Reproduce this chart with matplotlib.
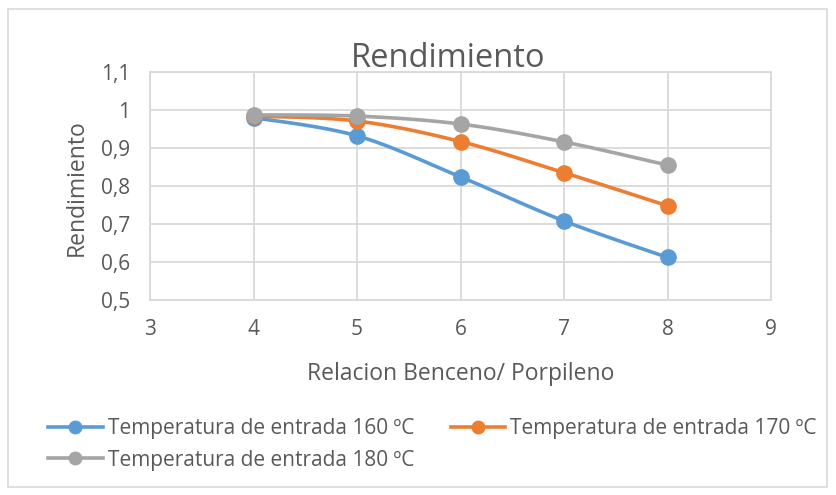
import numpy as np
import matplotlib.pyplot as plt
from matplotlib.patches import Rectangle

relacion = [4, 5, 6, 7, 8]
rend_160 = [0.980, 0.932, 0.824, 0.708, 0.612]
rend_170 = [0.984, 0.971, 0.917, 0.835, 0.748]
rend_180 = [0.987, 0.984, 0.963, 0.916, 0.855]
labels = ["Temperatura de entrada 160 ºC",
          "Temperatura de entrada 170 ºC",
          "Temperatura de entrada 180 ºC"]
colors = ["#5B9BD5", "#ED7D31", "#A5A5A5"]

plt.rcParams['font.family'] = ['Open Sans', 'DejaVu Sans']
txt = "#595959"


def smooth(xs, ys, n=30):
    # bezier smoothing, control points a sixth of the neighbour span
    p = np.column_stack([xs, ys]).astype(float)
    p = np.vstack([p[0], p, p[-1]])
    out = []
    for i in range(1, len(p) - 2):
        p0, p1, p2, p3 = p[i - 1], p[i], p[i + 1], p[i + 2]
        c1 = p1 + (p2 - p0) / 6
        c2 = p2 - (p3 - p1) / 6
        t = np.linspace(0, 1, n)[:, None]
        seg = ((1 - t) ** 3 * p1 + 3 * (1 - t) ** 2 * t * c1
               + 3 * (1 - t) * t ** 2 * c2 + t ** 3 * p2)
        out.append(seg if i == 1 else seg[1:])
    seg = np.vstack(out)
    return seg[:, 0], seg[:, 1]


fig = plt.figure(figsize=(8.36, 4.95), dpi=100)
ax = fig.add_axes([150 / 836, 1 - 300 / 495, 621 / 836, 228 / 495])

handles = []
for ys, c, lab in zip([rend_160, rend_170, rend_180], colors, labels):
    sx, sy = smooth(relacion, ys)
    ax.plot(sx, sy, color=c, lw=2.6, solid_capstyle='round', zorder=3)
    ax.plot(relacion, ys, 'o', color=c, ms=11, zorder=4)
    h, = ax.plot([], [], '-o', color=c, lw=2.6, ms=9, label=lab)
    handles.append(h)

ax.set_xlim(3, 9)
ax.set_ylim(0.5, 1.1)
ax.set_xticks(range(3, 10))
yt = np.arange(0.5, 1.11, 0.1)
ax.set_yticks(yt)
ax.set_yticklabels(["1" if abs(v - 1) < 1e-9 else f"{v:.1f}".replace('.', ',')
                    for v in yt])
ax.grid(True, color="#D9D9D9", lw=1.3)
ax.set_axisbelow(True)
for s in ax.spines.values():
    s.set_color("#D9D9D9")
    s.set_linewidth(1.3)
ax.tick_params(length=0, labelsize=15, colors=txt)
ax.tick_params(axis='x', pad=14)
ax.tick_params(axis='y', pad=14)

fig.text(448 / 836, 1 - 67 / 495, "Rendimiento", ha='center', va='baseline',
         fontsize=23.5, color=txt)
fig.text(461 / 836, 1 - 380 / 495, "Relacion Benceno/ Porpileno", ha='center',
         va='baseline', fontsize=16.5, color=txt)
fig.text(83 / 836, 1 - 188 / 495, "Rendimiento", ha='center', va='baseline',
         rotation=90, rotation_mode='anchor', fontsize=16.5, color=txt)

# column-wise fill: 160 and 180 share the first column
order = [0, 2, 1]
leg = fig.legend(handles=[handles[i] for i in order], ncol=2, loc='upper left',
                 bbox_to_anchor=(40 / 836, 1 - 410 / 495), frameon=False,
                 fontsize=15, handlelength=2.6, handletextpad=0.25,
                 columnspacing=1.75, labelspacing=0.5, numpoints=1,
                 borderaxespad=0)
for t in leg.get_texts():
    t.set_color(txt)

fig.patches.append(Rectangle((8 / 836, 8 / 495), 819 / 836, 478 / 495,
                             transform=fig.transFigure, fill=False,
                             edgecolor="#D9D9D9", lw=1.2))

fig.savefig("out.png", dpi=100)
